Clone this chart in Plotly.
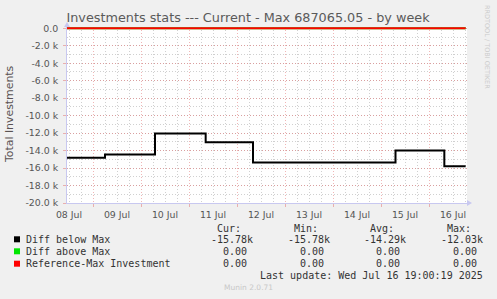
import plotly.graph_objects as go

# ---------------- data ----------------
times = ["2025-07-08 11:00", "2025-07-09 06:00", "2025-07-10 07:00", "2025-07-11 08:20",
         "2025-07-12 08:00", "2025-07-15 07:15", "2025-07-16 07:40", "2025-07-16 18:20"]
diff_below = [-14830, -14450, -12030, -13050, -15370, -13980, -15780, -15780]
zero_times = ["2025-07-08 11:00", "2025-07-16 18:20"]
diff_above = [0, 0]
ref_max = [0, 0]

series_names = ["Diff below Max", "Diff above Max", "Reference-Max Investment"]
series_colors = ["#000000", "#00e600", "#ff0000"]
stat_headers = ["Cur:", "Min:", "Avg:", "Max:"]
cur_vals = ["-15.78k", "0.00", "0.00"]
min_vals = ["-15.78k", "0.00", "0.00"]
avg_vals = ["-14.29k", "0.00", "0.00"]
max_vals = ["-12.03k", "0.00", "0.00"]

ytick_vals = [0, -2000, -4000, -6000, -8000, -10000, -12000, -14000, -16000, -18000, -20000]
ytick_text = ["0.0", "-2.0 k", "-4.0 k", "-6.0 k", "-8.0 k", "-10.0 k", "-12.0 k",
              "-14.0 k", "-16.0 k", "-18.0 k", "-20.0 k"]

title_text = "Investments stats --- Current - Max 687065.05 - by week"
ytitle = "Total Investments"
last_update = "Last update: Wed Jul 16 19:00:19 2025"
x_range = ["2025-07-08 11:00", "2025-07-16 19:00"]

# ---------------- layout geometry ----------------
W, H = 497, 299
ML, MR, MT, MB = 67, 30, 27, 96
PW = W - ML - MR
PH = H - MT - MB


def px(x):
    return (x - ML) / PW


def py(y):
    return (H - MB - y) / PH


fig = go.Figure()
fig.add_trace(go.Scatter(x=times, y=diff_below, mode="lines", line=dict(color=series_colors[0], width=2, shape="hv"),
                         name=series_names[0], showlegend=False))
fig.add_trace(go.Scatter(x=zero_times, y=diff_above, mode="lines", line=dict(color=series_colors[1], width=2),
                         name=series_names[1], showlegend=False))
fig.add_trace(go.Scatter(x=zero_times, y=ref_max, mode="lines", line=dict(color=series_colors[2], width=2),
                         name=series_names[2], showlegend=False))

axis_col = "#c8c8f0"
major_grid = "rgba(225,110,110,0.5)"
minor_grid = "rgba(170,170,170,0.55)"
tick_font = dict(family="DejaVu Sans", size=9.4, color="#555555")

fig.update_xaxes(
    type="date", range=x_range, dtick=86400000, tick0="2025-07-08 00:00",
    ticklabelmode="period", tickformat="%d %b", tickfont=tick_font,
    showgrid=True, gridcolor=major_grid, griddash="1px,2px", gridwidth=1,
    ticks="outside", ticklen=3, tickcolor=major_grid,
    showline=True, linecolor=axis_col, linewidth=1, zeroline=False,
    minor=dict(dtick=21600000, tick0="2025-07-08 00:00", showgrid=True, gridcolor=minor_grid,
               griddash="1px,2px", gridwidth=1),
)
fig.update_yaxes(
    range=[-20000, 150], tickvals=ytick_vals, ticktext=ytick_text, tickfont=tick_font,
    showgrid=True, gridcolor=major_grid, griddash="1px,2px", gridwidth=1,
    ticks="outside", ticklen=3, tickcolor=major_grid, ticklabelstandoff=3,
    showline=True, linecolor=axis_col, linewidth=1, zeroline=False,
    minor=dict(dtick=1000, tick0=0, showgrid=True, gridcolor=minor_grid, griddash="1px,2px", gridwidth=1),
)

# axis arrows
shapes = [
    dict(type="path", xref="paper", yref="paper",
         path=f"M {px(467)},{py(200)} L {px(472)},{py(203)} L {px(467)},{py(206)} Z",
         fillcolor=axis_col, line=dict(width=0)),
    dict(type="path", xref="paper", yref="paper",
         path=f"M {px(64)},{py(27)} L {px(67)},{py(22)} L {px(70)},{py(27)} Z",
         fillcolor=axis_col, line=dict(width=0)),
]

annotations = []
mono = dict(family="DejaVu Sans Mono", size=10, color="#333333")
row_y = [239.3, 251.3, 263.7]
col_right = [253.3, 330, 406, 482.7]
cw = 5.97
for i, name in enumerate(series_names):
    shapes.append(dict(type="rect", xref="paper", yref="paper",
                       x0=px(14), x1=px(20), y0=py(row_y[i] + 3), y1=py(row_y[i] - 3),
                       fillcolor=series_colors[i], line=dict(width=0)))
    annotations.append(dict(x=px(26), y=py(row_y[i]), xref="paper", yref="paper", text=name,
                            showarrow=False, xanchor="left", yanchor="middle", font=mono,
                            borderpad=0, borderwidth=0))
    for j, vals in enumerate([cur_vals, min_vals, avg_vals, max_vals]):
        v = vals[i]
        xr = col_right[j] - (0 if v.endswith("k") else cw)
        annotations.append(dict(x=px(xr), y=py(row_y[i]), xref="paper", yref="paper", text=v,
                                showarrow=False, xanchor="right", yanchor="middle", font=mono,
                                borderpad=0, borderwidth=0))
for j, hname in enumerate(stat_headers):
    annotations.append(dict(x=px(col_right[j] - 2 * cw), y=py(228.3), xref="paper", yref="paper", text=hname,
                            showarrow=False, xanchor="right", yanchor="middle", font=mono,
                            borderpad=0, borderwidth=0))
annotations.append(dict(x=px(482.7), y=py(275.7), xref="paper", yref="paper", text=last_update,
                        showarrow=False, xanchor="right", yanchor="middle", font=mono,
                        borderpad=0, borderwidth=0))
annotations.append(dict(x=px(248.5), y=py(287.7), xref="paper", yref="paper", text="Munin 2.0.71",
                        showarrow=False, xanchor="center", yanchor="middle",
                        font=dict(family="DejaVu Sans", size=7.5, color="#c8c8c8"),
                        borderpad=0, borderwidth=0))
annotations.append(dict(x=px(487), y=py(5), xref="paper", yref="paper", text="RRDTOOL / TOBI OETIKER",
                        showarrow=False, xanchor="center", yanchor="top", textangle=90,
                        font=dict(family="DejaVu Sans", size=6.5, color="#cccccc"),
                        borderpad=0, borderwidth=0))
annotations.append(dict(x=px(10), y=py(114), xref="paper", yref="paper", text=ytitle,
                        showarrow=False, xanchor="center", yanchor="middle", textangle=-90,
                        font=dict(family="DejaVu Sans", size=10.9, color="#5a5252"),
                        borderpad=0, borderwidth=0))

fig.update_layout(
    width=W, height=H, margin=dict(l=ML, r=MR, t=MT, b=MB, pad=0),
    paper_bgcolor="#f0f0f0", plot_bgcolor="#ffffff",
    title=dict(text=title_text, x=(67 + 429) / 2 / W, xref="container", xanchor="center",
               y=1 - 18 / H, yref="container", yanchor="middle",
               font=dict(family="DejaVu Sans", size=12.8, color="#5a5a5a")),
    showlegend=False, shapes=shapes, annotations=annotations,
)

fig.write_html("out.html", config={"displayModeBar": False})
